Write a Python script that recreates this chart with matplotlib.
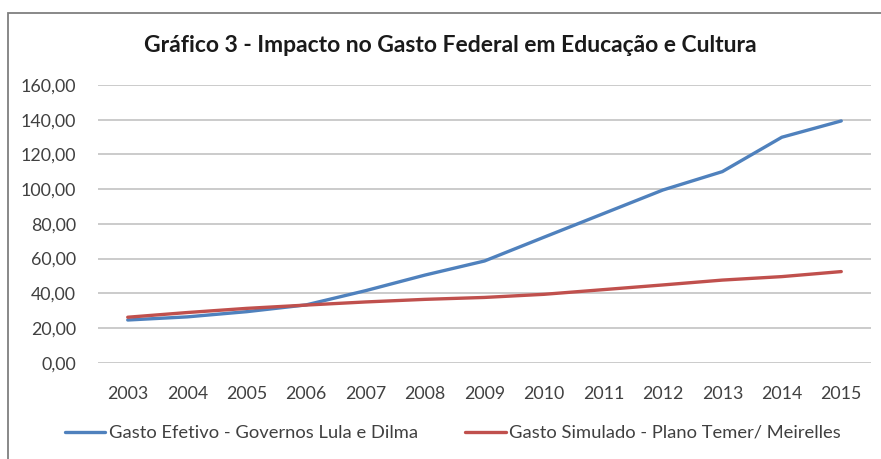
import matplotlib.pyplot as plt
from matplotlib.patches import Rectangle

# data
anos = ["2003", "2004", "2005", "2006", "2007", "2008", "2009",
        "2010", "2011", "2012", "2013", "2014", "2015"]
gasto_efetivo = [24.6, 26.4, 29.4, 33.3, 41.5, 50.5, 58.6,
                 72.3, 85.9, 99.5, 110.1, 129.9, 139.3]
gasto_simulado = [26.2, 28.9, 31.3, 33.2, 35.0, 36.5, 37.6,
                  39.4, 42.1, 44.8, 47.6, 49.6, 52.5]
yticks = [0, 20, 40, 60, 80, 100, 120, 140, 160]

plt.rcParams['font.family'] = ['Lato', 'DejaVu Sans']
TXT = "#404040"

fig = plt.figure(figsize=(8.81, 4.59), dpi=100)
ax = fig.add_axes([98 / 881, (459 - 362.7) / 459, 773 / 881, 277.7 / 459])

x = list(range(len(anos)))
ax.plot(x, gasto_efetivo, color="#4F81BD", lw=2.4,
        label="Gasto Efetivo - Governos Lula e Dilma", solid_capstyle="round")
ax.plot(x, gasto_simulado, color="#C0504D", lw=2.4,
        label="Gasto Simulado - Plano Temer/ Meirelles", solid_capstyle="round")

ax.set_xlim(-0.5, len(anos) - 0.5)
ax.set_ylim(0, 160)
ax.set_xticks(x)
ax.set_xticklabels(anos)
ax.set_yticks(yticks)
ax.set_yticklabels([f"{v:.2f}".replace(".", ",") for v in yticks])
ax.tick_params(axis="both", length=0, labelsize=12.8, colors=TXT)
ax.tick_params(axis="x", pad=17)
ax.tick_params(axis="y", pad=16)
ax.grid(axis="y", color="#BDBDBD", lw=1.1)
ax.set_axisbelow(True)
for s in ax.spines.values():
    s.set_visible(False)

fig.text(0.511, 1 - 45 / 459, "Gráfico 3 - Impacto no Gasto Federal em Educação e Cultura",
         ha="center", va="center", fontsize=16.5, fontweight="bold", color="#1a1a1a")

fig.legend(loc="center", bbox_to_anchor=(0.514, 1 - 433 / 459), ncol=2, frameon=False,
           fontsize=13.2, handlelength=2.2, handletextpad=0.2, columnspacing=2.6,
           labelcolor=TXT)

# outer chart frame (cropped at right/bottom in the reference)
fig.patches.append(Rectangle((8 / 881, -0.05), 1.0, 1 - 13 / 459 + 0.05,
                             transform=fig.transFigure, fill=False,
                             edgecolor="#7f7f7f", lw=1.3))

fig.savefig("out.png", dpi=100)
